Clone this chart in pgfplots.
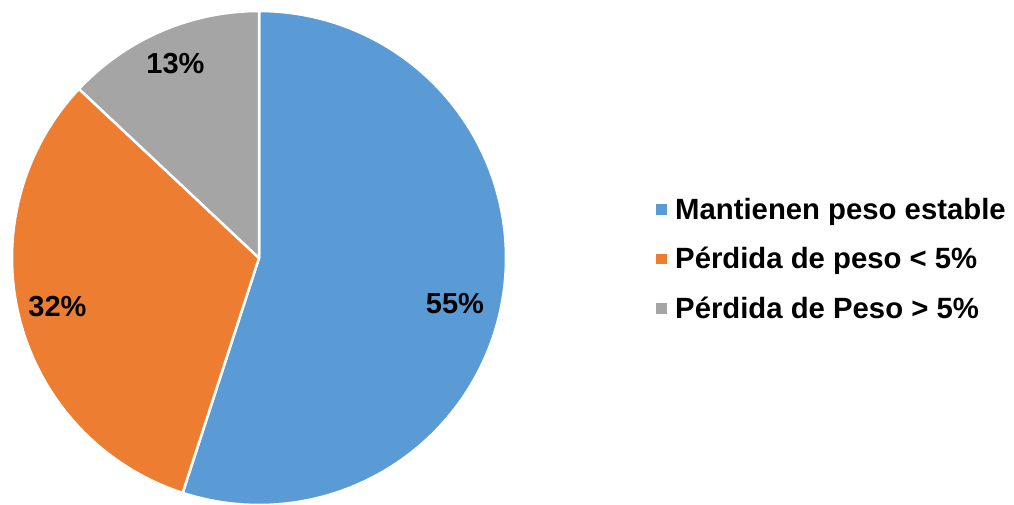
\documentclass[border=0pt]{standalone}
\usepackage{pgfplots}
\pgfplotsset{compat=1.18}
\usepackage{pgfplotstable}
\usepackage{fontspec}
\setmainfont{Liberation Sans}
\definecolor{cblue}{HTML}{5B9BD5}
\definecolor{corange}{HTML}{ED7D31}
\definecolor{cgray}{HTML}{A5A5A5}
\pgfplotstableread{
value
55
32
13
}\piedata
\pgfplotstablegetelem{0}{value}\of\piedata \let\va\pgfplotsretval
\pgfplotstablegetelem{1}{value}\of\piedata \let\vb\pgfplotsretval
\pgfplotstablegetelem{2}{value}\of\piedata \let\vc\pgfplotsretval
\pgfmathsetmacro\aA{90}
\pgfmathsetmacro\aB{90-3.6*\va}
\pgfmathsetmacro\aC{\aB-3.6*\vb}
\pgfmathsetmacro\aD{\aC-3.6*\vc}
\begin{document}%
\begin{tikzpicture}
\begin{axis}[x=1pt,y=1pt,xmin=0,xmax=1014,ymin=0,ymax=505,y dir=reverse,
  hide axis, clip=false,
  legend style={at={(axis cs:656,259)}, anchor=west, draw=none, fill=none,
    font=\fontsize{29.3}{34}\selectfont\bfseries, row sep=22.5pt, inner sep=0pt},
  legend cell align=left]
\coordinate (bl) at (axis cs:0,505);
\coordinate (tr) at (axis cs:1014,0);
\addplot[fill=cblue, draw=white, line width=2.5pt, line join=round, domain=\aB:\aA, samples=150,
  legend image code/.code={\fill[cblue, draw=none] (0pt,-5.25pt) rectangle (10.5pt,5.25pt); \path[draw=none, fill=none] (0pt,0pt) -- (17pt,0pt);}]
  ({259+247*cos(x)},{258-247*sin(x)}) -- (axis cs:259,258) -- cycle;
\addlegendentry{Mantienen peso estable}
\addplot[fill=corange, draw=white, line width=2.5pt, line join=round, domain=\aC:\aB, samples=100,
  legend image code/.code={\fill[corange, draw=none] (0pt,-5.25pt) rectangle (10.5pt,5.25pt); \path[draw=none, fill=none] (0pt,0pt) -- (17pt,0pt);}]
  ({259+247*cos(x)},{258-247*sin(x)}) -- (axis cs:259,258) -- cycle;
\addlegendentry{Pérdida de peso < 5\%}
\addplot[fill=cgray, draw=white, line width=2.5pt, line join=round, domain=\aD:\aC, samples=60,
  legend image code/.code={\fill[cgray, draw=none] (0pt,-5.25pt) rectangle (10.5pt,5.25pt); \path[draw=none, fill=none] (0pt,0pt) -- (17pt,0pt);}]
  ({259+247*cos(x)},{258-247*sin(x)}) -- (axis cs:259,258) -- cycle;
\addlegendentry{Pérdida de Peso > 5\%}
\node[font=\fontsize{29}{34}\selectfont\bfseries] at (axis cs:455,303.5) {55\%};
\node[font=\fontsize{29}{34}\selectfont\bfseries] at (axis cs:57.5,306.5) {32\%};
\node[font=\fontsize{29}{34}\selectfont\bfseries] at (axis cs:175.5,63.5) {13\%};
\end{axis}
\pgfresetboundingbox
\path (bl) rectangle (tr);
\end{tikzpicture}%
\end{document}
